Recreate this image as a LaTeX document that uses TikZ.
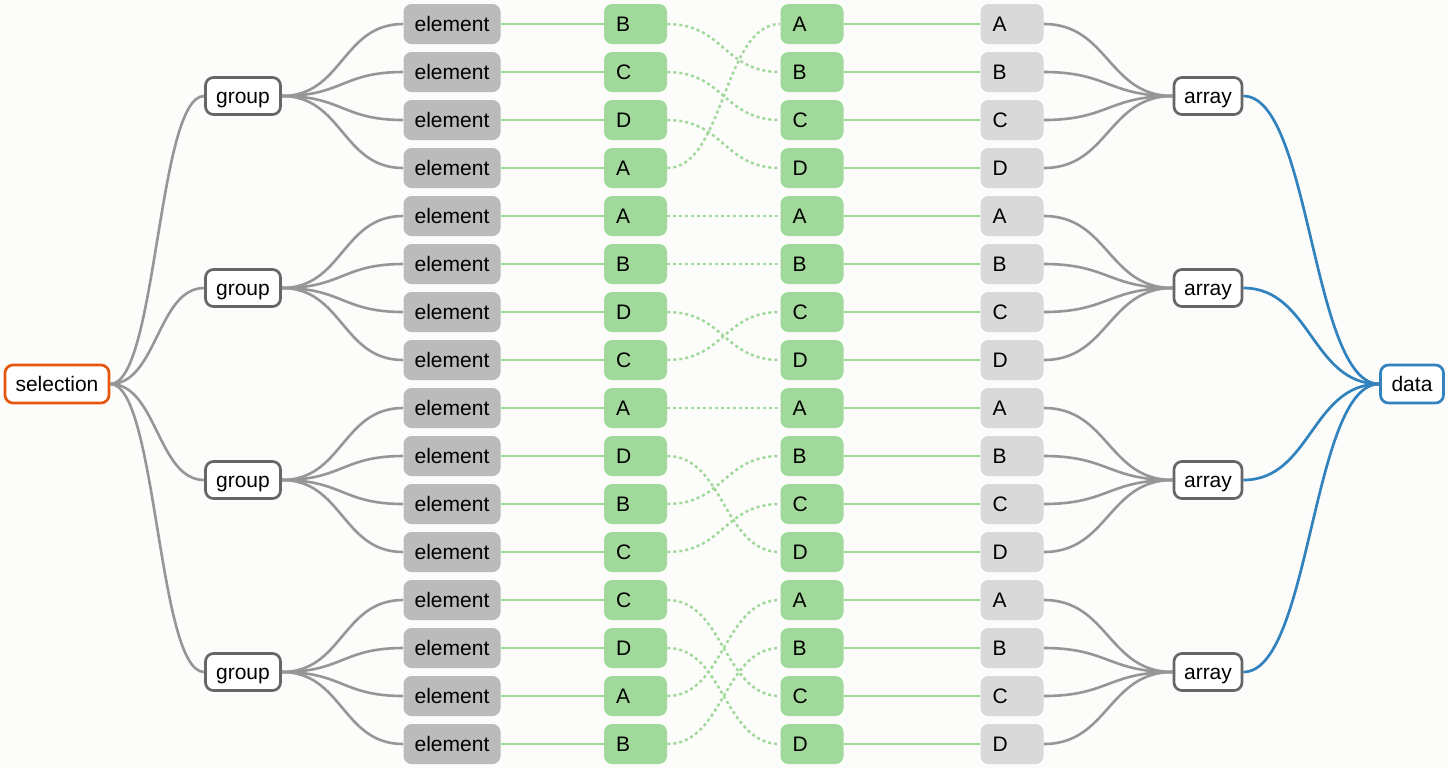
\documentclass[tikz,border=0pt]{standalone}
\usepackage{fontspec}
\setmainfont{Liberation Sans}
\usetikzlibrary{positioning, calc}
\definecolor{bgcol}{RGB}{252,252,250}
\definecolor{elemgray}{RGB}{187,187,187}
\definecolor{leafgray}{RGB}{217,217,217}
\definecolor{leafgreen}{RGB}{161,217,155}
\definecolor{linkgray}{RGB}{150,150,150}
\definecolor{bordgray}{RGB}{102,102,102}
\definecolor{selorange}{RGB}{230,85,13}
\definecolor{datablue}{RGB}{49,130,189}
\newcommand{\drawg}{\draw[line width=1.3pt, linkgray]}

\begin{document}
\begin{tikzpicture}[x=0.5pt, y=-0.5pt, font=\fontsize{10.5}{12}\selectfont,
  box/.style={rounded corners=4pt, minimum height=20pt, inner sep=0pt, text height=7.6pt, text depth=0pt},
  hub/.style={box, fill=white, draw=bordgray, line width=1.35pt, minimum height=18.5pt},
  elembox/.style={box, fill=elemgray, minimum width=48.5pt},
  leaf/.style={box, text width=19.5pt, inner xsep=6pt, align=left},
  greenlink/.style={line width=1.25pt, leafgreen},
  dotlink/.style={greenlink, dash pattern=on 1.5pt off 1.5pt}]
\fill[bgcol] (0,0) rectangle (1448,768);
\useasboundingbox (0,0) rectangle (1448,768);
% Selection and data
\node[hub, draw=selorange, minimum width=52pt, minimum height=19pt] (sel) at (57,384) {selection};
\node[hub, draw=datablue, minimum width=31.5pt, minimum height=19pt] (data) at (1412,384) {data};
% Groups and arrays
\foreach \g in {0,...,3} {
  \node[hub, minimum width=37.5pt] (grp\g) at (243,96+192*\g) {group};
  \node[hub, minimum width=34pt] (arr\g) at (1208,96+192*\g) {array};
  \drawg (sel.east) to[out=0, in=180, distance=23.25pt] (grp\g.west);
  \draw[line width=1.35pt, datablue] (arr\g.east) to[out=0, in=180, distance=33.75pt] (data.west);
}
% Rows of elements
\foreach \k/\m [count=\i from 0] in {B/A,C/B,D/C,A/D, A/A,B/B,D/C,C/D, A/A,D/B,B/C,C/D, C/A,D/B,A/C,B/D} {
  \pgfmathtruncatemacro{\gi}{floor(\i/4)}
  \node[elembox] (el\i) at (452,24+48*\i) {element};
  \node[leaf, fill=leafgreen] (key\i) at (635.5,24+48*\i) {\k};
  \node[leaf, fill=leafgreen] (dat\i) at (812,24+48*\i) {\m};
  \node[leaf, fill=leafgray] (val\i) at (1012,24+48*\i) {\m};
  \drawg (grp\gi.east) to[out=0, in=180, distance=30.5pt] (el\i.west);
  \draw[greenlink] (el\i.east) -- (key\i.west);
  \draw[greenlink] (dat\i.east) -- (val\i.west);
  \drawg (val\i.east) to[out=0, in=180, distance=32.25pt] (arr\gi.west);
}
% Data join
\foreach \i/\j in {0/1,1/2,2/3,3/0, 4/4,5/5,6/7,7/6, 8/8,9/11,10/9,11/10, 12/14,13/15,14/12,15/13} {
  \draw[dotlink] (key\i.east) to[out=0, in=180, distance=28.25pt] (dat\j.west);
}
\end{tikzpicture}
\end{document}
